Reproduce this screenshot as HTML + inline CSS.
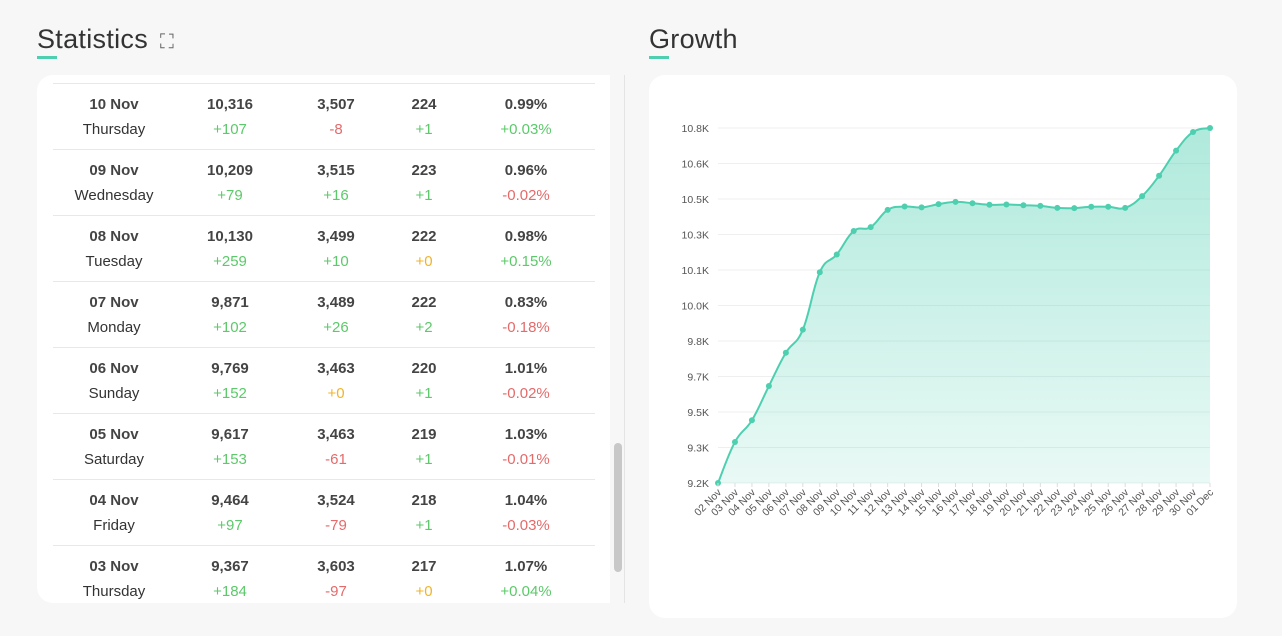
<!DOCTYPE html>
<html><head><meta charset="utf-8"><style>
body{margin:0;width:1282px;height:636px;background:#f7f7f7;font-family:"Liberation Sans",sans-serif;overflow:hidden;position:relative}
.title{position:absolute;top:24px;font-size:27px;color:#333;letter-spacing:0.3px}
.title .ul{position:absolute;left:0;top:32px;width:20px;height:3px;background:#4dcfb0}
.card{position:absolute;background:#fff;border-radius:16px}
.row{position:absolute;left:16px;width:542px;height:66px;border-top:1px solid #e8e8e8}
.c{position:absolute;width:110px;text-align:center;font-size:15px}
.l1{top:12px;font-weight:bold;color:#444}
.l2{top:37px;color:#333}
.g{color:#5cc96a}.r{color:#e56a6a}.y{color:#f0b428}
</style></head><body>
<div class="title" style="left:37px">Statistics <span style="font-size:20px;color:#666;margin-left:4px">⛶</span><div class="ul"></div></div>
<div class="title" style="left:649px">Growth<div class="ul"></div></div>
<div class="card" style="left:37px;top:75px;width:573px;height:528px;overflow:hidden;border-radius:16px 0 0 16px" id="tbl"></div>
<div style="position:absolute;left:614px;top:443px;width:8px;height:129px;background:#c8c8c8;border-radius:4px"></div>
<div style="position:absolute;left:624px;top:75px;width:1px;height:528px;background:#e4e4e4"></div>
<div class="card" style="left:649px;top:75px;width:588px;height:543px">
<svg id="chart" width="588" height="543" style="position:absolute;left:0;top:0">
<defs><linearGradient id="gf" x1="0" y1="0" x2="0" y2="1"><stop offset="0" stop-color="#4dcfb0" stop-opacity="0.45"/><stop offset="1" stop-color="#4dcfb0" stop-opacity="0.12"/></linearGradient></defs>
</svg></div>
<script>
const rows=[["10 Nov","Thursday","10,316","+107","g","3,507","-8","r","224","+1","g","0.99%","+0.03%","g"],
["09 Nov","Wednesday","10,209","+79","g","3,515","+16","g","223","+1","g","0.96%","-0.02%","r"],
["08 Nov","Tuesday","10,130","+259","g","3,499","+10","g","222","+0","y","0.98%","+0.15%","g"],
["07 Nov","Monday","9,871","+102","g","3,489","+26","g","222","+2","g","0.83%","-0.18%","r"],
["06 Nov","Sunday","9,769","+152","g","3,463","+0","y","220","+1","g","1.01%","-0.02%","r"],
["05 Nov","Saturday","9,617","+153","g","3,463","-61","r","219","+1","g","1.03%","-0.01%","r"],
["04 Nov","Friday","9,464","+97","g","3,524","-79","r","218","+1","g","1.04%","-0.03%","r"],
["03 Nov","Thursday","9,367","+184","g","3,603","-97","r","217","+0","y","1.07%","+0.04%","g"]];
const tbl=document.getElementById('tbl');
const cx=[77,193,299,387,489];
rows.forEach((r,i)=>{const d=document.createElement('div');d.className='row';d.style.top=(8+i*66)+'px';


let h=`<div class="c l1" style="left:${cx[0]-16-55}px">${r[0]}</div><div class="c l2" style="left:${cx[0]-16-55}px">${r[1]}</div>`;
for(let k=0;k<4;k++){const b=2+k*3;h+=`<div class="c l1" style="left:${cx[k+1]-16-55}px">${r[b]}</div><div class="c l2 ${r[b+2]}" style="left:${cx[k+1]-16-55}px">${r[b+1]}</div>`;}
d.innerHTML=h;tbl.appendChild(d);});

const dates=["02 Nov","03 Nov","04 Nov","05 Nov","06 Nov","07 Nov","08 Nov","09 Nov","10 Nov","11 Nov","12 Nov","13 Nov","14 Nov","15 Nov","16 Nov","17 Nov","18 Nov","19 Nov","20 Nov","21 Nov","22 Nov","23 Nov","24 Nov","25 Nov","26 Nov","27 Nov","28 Nov","29 Nov","30 Nov","01 Dec"];
const values=[9200,9385,9483,9637,9787,9891,10150,10230,10336,10353,10431,10446,10442,10457,10467,10461,10454,10455,10452,10449,10440,10439,10445,10445,10440,10493,10585,10698,10782,10800];
const tickLabels=["10.8K","10.6K","10.5K","10.3K","10.1K","10.0K","9.8K","9.7K","9.5K","9.3K","9.2K"];
const svg=document.getElementById('chart');const NS="http://www.w3.org/2000/svg";
const x0=69,x1=561,yTop=53,yBot=408,vMin=9200,vMax=10800;
const xs=i=>x0+(x1-x0)*i/(dates.length-1);
const ys=v=>yBot-(v-vMin)/(vMax-vMin)*(yBot-yTop);
function el(t,a){const e=document.createElementNS(NS,t);for(const k in a)e.setAttribute(k,a[k]);svg.appendChild(e);return e;}
tickLabels.forEach((t,i)=>{const y=yTop+(yBot-yTop)*i/(tickLabels.length-1);
const g=el('line',{x1:x0,x2:x1,y1:y,y2:y,stroke:'#efefef'});
const tx=el('text',{x:60,y:y+4,'text-anchor':'end','font-size':'10.5','fill':'#555'});tx.textContent=t;

});
const pts=values.map((v,i)=>[xs(i),ys(v)]);
let p='M'+pts[0][0]+','+pts[0][1];
const T=0.2;
for(let i=0;i<pts.length-1;i++){const a=pts[Math.max(0,i-1)],b=pts[i],c=pts[i+1],d=pts[Math.min(pts.length-1,i+2)];
const c1=[b[0]+(c[0]-a[0])*T,b[1]+(c[1]-a[1])*T],c2=[c[0]-(d[0]-b[0])*T,c[1]-(d[1]-b[1])*T];
p+=`C${c1[0]},${c1[1]} ${c2[0]},${c2[1]} ${c[0]},${c[1]}`;}
const area=el('path',{d:p+'L'+xs(values.length-1)+','+yBot+'L'+xs(0)+','+yBot+'Z',fill:'url(#gf)'});


const line=el('path',{d:p,fill:'none',stroke:'#4dcfb0','stroke-width':'2'});


values.forEach((v,i)=>{const c=el('circle',{cx:xs(i),cy:ys(v),r:3,fill:'#4dcfb0'});

});
dates.forEach((d,i)=>{const x=xs(i);el('line',{x1:x,x2:x,y1:yBot,y2:yBot+4,stroke:'#ddd'});
const t=el('text',{x:x+4,y:yBot+10,'text-anchor':'end','font-size':'10.5','fill':'#555',transform:`rotate(-45 ${x+4} ${yBot+10})`});t.textContent=d;

});
</script>
</body></html>
